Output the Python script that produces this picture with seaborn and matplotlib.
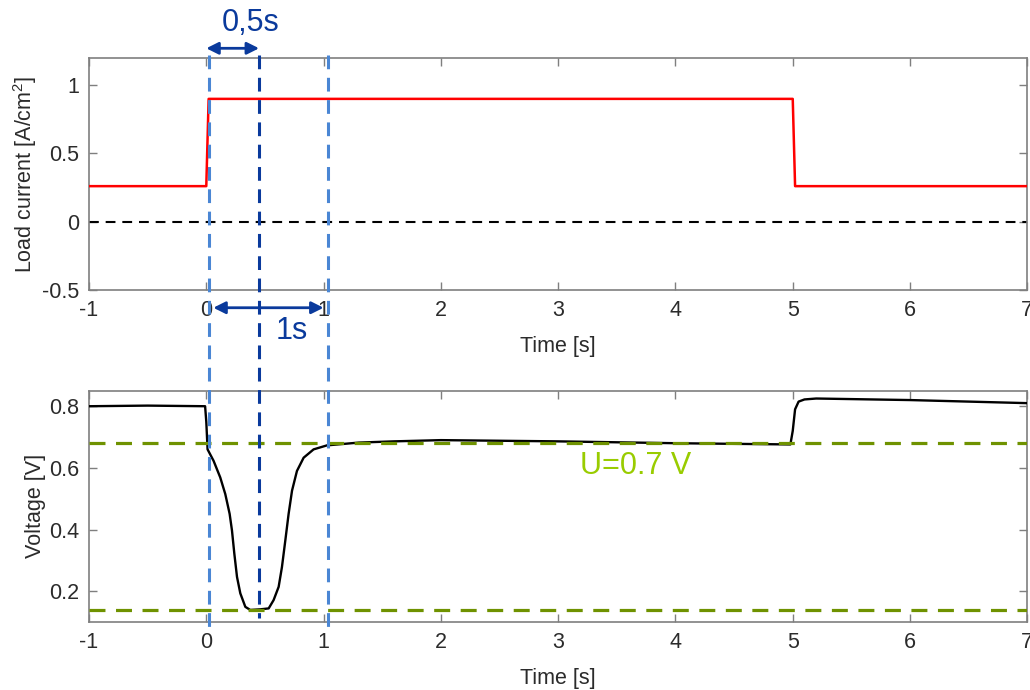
import pandas as pd
import matplotlib.pyplot as plt
import matplotlib.transforms as mtransforms
from matplotlib.lines import Line2D
from matplotlib.ticker import FormatStrFormatter
import seaborn as sns

# load current step [A/cm2]
current_time = [-1.0, 0.0, 0.02, 5.0, 5.02, 7.0]
current_value = [0.26, 0.26, 0.9, 0.9, 0.26, 0.26]

# cell voltage [V]
voltage_time = [-1.0, -0.5, -0.01, 0.0, 0.011, 0.062, 0.119, 0.162, 0.199, 0.219,
                0.239, 0.262, 0.290, 0.333, 0.375, 0.461, 0.532, 0.574, 0.617, 0.645,
                0.674, 0.702, 0.731, 0.773, 0.830, 0.915, 1.029, 1.3, 1.6, 2.0, 3.0,
                4.0, 4.98, 5.0, 5.02, 5.05, 5.1, 5.2, 6.0, 7.0]
voltage_value = [0.80, 0.802, 0.80, 0.75, 0.660, 0.623, 0.569, 0.515, 0.451, 0.397,
                 0.322, 0.246, 0.193, 0.149, 0.139, 0.141, 0.144, 0.171, 0.214, 0.278,
                 0.365, 0.451, 0.526, 0.590, 0.633, 0.660, 0.673, 0.682, 0.686, 0.69,
                 0.686, 0.68, 0.676, 0.72, 0.79, 0.815, 0.822, 0.825, 0.82, 0.81]

x_ticks = [-1, 0, 1, 2, 3, 4, 5, 6, 7]
current_ticks = [-0.5, 0, 0.5, 1]
voltage_ticks = [0.2, 0.4, 0.6, 0.8]
u_levels = [0.68, 0.14]
window_times = [0.02, 1.04]
mid_time = 0.45

sns.set_theme(style="ticks")
plt.rcParams['font.family'] = ['Liberation Sans', 'DejaVu Sans']
plt.rcParams['mathtext.default'] = 'regular'
plt.rcParams['axes.unicode_minus'] = False

LIGHT_BLUE = '#4a86d4'
DARK_BLUE = '#0a3a9c'
OLIVE = '#6f9200'
TEXT_GREEN = '#99cc00'
GREY = '#7f7f7f'
TXT = '#2b2b2b'

fig = plt.figure(figsize=(10.3, 6.9), dpi=100)
ax_i = fig.add_axes([0.0864, 0.580, 0.911, 0.336])
ax_v = fig.add_axes([0.0864, 0.0986, 0.911, 0.335])

df_i = pd.DataFrame({'t': current_time, 'i': current_value})
df_v = pd.DataFrame({'t': voltage_time, 'v': voltage_value})

sns.lineplot(data=df_i, x='t', y='i', ax=ax_i, color='#ff0000', lw=1.8,
             estimator=None, sort=False, zorder=3)
ax_i.axhline(0, color='black', lw=1.5, dashes=(4.7, 3.3), zorder=2)

sns.lineplot(data=df_v, x='t', y='v', ax=ax_v, color='black', lw=1.7,
             estimator=None, sort=False, zorder=3)
for lvl in u_levels:
    ax_v.axhline(lvl, color=OLIVE, lw=2.3, dashes=(5, 3.3), zorder=4)
ax_v.text(3.66, 0.606, 'U=0.7 V', color=TEXT_GREEN, fontsize=22,
          ha='center', va='center')

for ax, yt, ylim, ylab in [(ax_i, current_ticks, (-0.5, 1.2), 'Load current [A/cm$^2$]'),
                           (ax_v, voltage_ticks, (0.1, 0.85), 'Voltage [V]')]:
    ax.set_xlim(-1, 7)
    ax.set_ylim(*ylim)
    ax.set_xticks(x_ticks)
    ax.set_yticks(yt)
    ax.yaxis.set_major_formatter(FormatStrFormatter('%g'))
    ax.set_xlabel('Time [s]', fontsize=15.5, color=TXT, labelpad=11)
    ax.set_ylabel(ylab, fontsize=15.5, color=TXT, labelpad=2)
    ax.tick_params(direction='in', top=True, right=True, length=6, width=1,
                   color=GREY, labelsize=15.5, labelcolor=TXT, pad=7)
    for sp in ax.spines.values():
        sp.set_visible(True)
        sp.set_color(GREY)
        sp.set_linewidth(1.2)

# vertical markers spanning both panels
trans = mtransforms.blended_transform_factory(ax_i.transData, fig.transFigure)
for t in window_times:
    fig.add_artist(Line2D([t, t], [0.920, 0.084], transform=trans, color=LIGHT_BLUE,
                          lw=2.2, dashes=(4.5, 2.8), zorder=5))
fig.add_artist(Line2D([mid_time, mid_time], [0.920, 0.104], transform=trans,
                      color=DARK_BLUE, lw=2.2, dashes=(4.5, 2.8), zorder=5))

# duration arrows
ax_i.annotate('', xy=(mid_time, 0.930), xytext=(0.0, 0.930),
              xycoords=trans, textcoords=trans,
              arrowprops=dict(arrowstyle='<|-|>', color=DARK_BLUE, lw=2,
                              mutation_scale=18, shrinkA=0, shrinkB=0))
ax_i.annotate('', xy=(1.0, 0.554), xytext=(0.06, 0.554),
              xycoords=trans, textcoords=trans,
              arrowprops=dict(arrowstyle='<|-|>', color=DARK_BLUE, lw=2,
                              mutation_scale=18, shrinkA=0, shrinkB=0))
fig.text(0.375, 0.966, '0,5s', transform=trans, color=DARK_BLUE, fontsize=22,
         ha='center', va='center')
fig.text(0.73, 0.521, '1s', transform=trans, color=DARK_BLUE, fontsize=22,
         ha='center', va='center')

fig.savefig('out.png', dpi=100)
